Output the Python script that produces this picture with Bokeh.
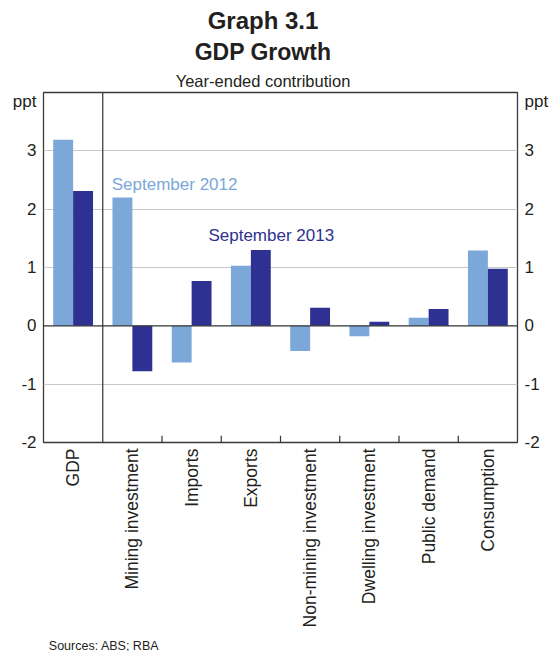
import math
from bokeh.plotting import figure
from bokeh.layouts import column
from bokeh.models import (ColumnDataSource, FactorRange, Range1d, LinearAxis,
                          FixedTicker, Span)
from bokeh.core.properties import value
from bokeh.transform import dodge
from bokeh.embed import file_html
from bokeh.resources import INLINE

# ---- data ----
categories = ["GDP", "Mining investment", "Imports", "Exports",
              "Non-mining investment", "Dwelling investment",
              "Public demand", "Consumption"]
sep_2012 = [3.19, 2.20, -0.63, 1.03, -0.43, -0.18, 0.14, 1.29]
sep_2013 = [2.31, -0.78, 0.77, 1.30, 0.31, 0.07, 0.29, 0.98]
y_ticks = [-2, -1, 0, 1, 2, 3, 3.91]
y_tick_labels = {-2: "-2", -1: "-1", 0: "0", 1: "1", 2: "2", 3: "3", 3.91: "ppt"}
grid_ticks = [-1, 1, 2, 3]

LIGHT = "#7BA7D9"
DARK = "#2E3192"
TXT = "#231F20"
FONT = "Liberation Sans"
W = 559
FRAME_L, FRAME_R = 43, 517   # frame edges of the main chart (page pixels)


def blank(height, y_top, y_bottom):
    """A text-only strip; the column aligns its frame with the main chart's frame,
    so x is given in page pixels between the frame edges."""
    f = figure(width=W, height=height, x_range=Range1d(FRAME_L, FRAME_R),
               y_range=Range1d(y_bottom, y_top), min_border=0,
               x_axis_location=None, y_axis_location=None, title_location=None,
               output_backend="svg", toolbar_location=None)
    f.outline_line_color = None
    f.xgrid.visible = False
    f.ygrid.visible = False
    return f


# ---- heading strip ----
head = blank(91, 0, 91)
head.text(x=[262.5], y=[20.0], text=["Graph 3.1"], text_align="center",
          text_baseline="alphabetic", text_font=value(FONT), text_font_size="24px",
          text_font_style="bold", text_color=TXT)
head.text(x=[262.5], y=[51.0], text=["GDP Growth"], text_align="center",
          text_baseline="alphabetic", text_font=value(FONT), text_font_size="23px",
          text_font_style="bold", text_color=TXT)
head.text(x=[262.5], y=[80.6], text=["Year-ended contribution"], text_align="center",
          text_baseline="alphabetic", text_font=value(FONT), text_font_size="16.5px",
          text_color=TXT)

# ---- main chart ----
src = ColumnDataSource(dict(cat=categories, s12=sep_2012, s13=sep_2013))

p = figure(x_range=FactorRange(*categories, factor_padding=0, range_padding=0),
           y_range=Range1d(-2, 4),
           frame_width=FRAME_R - FRAME_L, frame_height=350,
           min_border_left=FRAME_L, min_border_right=W - FRAME_R,
           min_border_top=1, min_border_bottom=194,
           title_location=None,
           output_backend="svg", toolbar_location=None,
           background_fill_color="white", border_fill_color="white")

p.outline_line_color = "#3A3A3A"
p.outline_line_width = 1.3

p.xgrid.visible = False
p.ygrid.ticker = FixedTicker(ticks=grid_ticks)
p.ygrid.grid_line_color = "#C8C8C8"
p.ygrid.grid_line_width = 1.2

# bars
p.vbar(x=dodge("cat", -0.168, range=p.x_range), top="s12", bottom=0, width=0.336,
       source=src, fill_color=LIGHT, line_color=None)
p.vbar(x=dodge("cat", 0.168, range=p.x_range), top="s13", bottom=0, width=0.336,
       source=src, fill_color=DARK, line_color=None)

# zero line
p.add_layout(Span(location=0, dimension="width", line_color="#333333", line_width=1.3))

# separator after GDP (full height) and boundary ticks at bottom
sep_src = ColumnDataSource(dict(cat=categories[:1]))
p.segment(x0=dodge("cat", 0.5, range=p.x_range), y0=-2,
          x1=dodge("cat", 0.5, range=p.x_range), y1=4,
          source=sep_src, line_color="#333333", line_width=1.2)
tick_src = ColumnDataSource(dict(cat=categories[1:-1]))
p.segment(x0=dodge("cat", 0.5, range=p.x_range), y0=-2,
          x1=dodge("cat", 0.5, range=p.x_range), y1=-1.885,
          source=tick_src, line_color="#333333", line_width=1.2)

# series labels inside the frame
p.text(x=["Mining investment"], y=[2.425], x_offset=-20.6, text=["September 2012"],
       text_baseline="alphabetic", text_font=value(FONT), text_font_size="17px",
       text_color=LIGHT)
p.text(x=["Imports"], y=[1.551], x_offset=16.8, text=["September 2013"],
       text_baseline="alphabetic", text_font=value(FONT), text_font_size="17px",
       text_color=DARK)

# axes
ax = p.xaxis[0]
ax.major_label_orientation = math.pi / 2
ax.major_label_text_font = FONT
ax.major_label_text_font_size = "17.5px"
ax.major_label_text_color = TXT
ax.major_label_standoff = 6
ax.major_tick_in = 0
ax.major_tick_out = 0
ax.axis_line_color = None

p.add_layout(LinearAxis(), "right")
for a in p.yaxis:
    a.ticker = FixedTicker(ticks=y_ticks)
    a.major_label_overrides = y_tick_labels
    a.major_tick_in = 0
    a.major_tick_out = 0
    a.minor_tick_in = 0
    a.minor_tick_out = 0
    a.axis_line_color = None
    a.major_label_text_font = FONT
    a.major_label_text_font_size = "17px"
    a.major_label_text_color = TXT
    a.major_label_standoff = 7

# ---- footer strip ----
foot = blank(15, 636, 651)
foot.text(x=[48.3], y=[645.0], text=["Sources: ABS; RBA"], text_align="left",
          text_baseline="alphabetic", text_font=value(FONT), text_font_size="12.5px",
          text_color=TXT)

layout = column(head, p, foot, spacing=0)
open("out.html", "w").write(file_html(layout, INLINE))
